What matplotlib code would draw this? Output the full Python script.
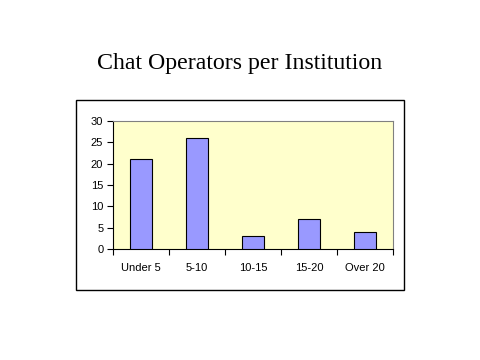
import matplotlib
matplotlib.use("Agg")
import matplotlib.pyplot as plt
from matplotlib.patches import Rectangle
import numpy as np

categories = ["Under 5", "5-10", "10-15", "15-20", "Over 20"]
values = [21, 26, 3, 7, 4]
yticks = [0, 5, 10, 15, 20, 25, 30]

fig = plt.figure(figsize=(4.8, 3.6), dpi=100)
fig.patch.set_facecolor("white")

# outer frame
fig.add_artist(Rectangle((76/480, 1-290/360), (404-76)/480, (290-100)/360,
                         transform=fig.transFigure, fill=False, edgecolor="black", lw=1))

fig.text(0.5, 1-64/360, "Chat Operators per Institution", ha="center", va="center",
         family="Liberation Serif", fontsize=17.2)

ax = fig.add_axes([113/480, 1-249/360, (393-113)/480, (249-121)/360])
ax.set_facecolor("#FFFFCC")
x = np.arange(len(categories))
ax.bar(x, values, width=0.4, color="#9999FF", edgecolor="black", linewidth=0.8, zorder=3)
ax.set_xlim(-0.5, len(categories)-0.5)
ax.set_ylim(0, 30)
ax.set_yticks(yticks)
ax.set_yticklabels([str(v) for v in yticks], family="Liberation Sans", fontsize=8)
ax.set_xticks(x)
ax.set_xticklabels(categories, family="Liberation Sans", fontsize=8)
ax.tick_params(axis="x", which="major", length=0, pad=10)
ax.set_xticks(np.arange(-0.5, len(categories)), minor=True)
ax.tick_params(axis="x", which="minor", length=4, width=0.8)
ax.tick_params(axis="y", length=4, width=0.8, pad=3)
for s in ["top", "right"]:
    ax.spines[s].set_color("#808080")
    ax.spines[s].set_linewidth(0.8)
for s in ["left", "bottom"]:
    ax.spines[s].set_linewidth(0.8)

fig.savefig("out.png", dpi=100)
